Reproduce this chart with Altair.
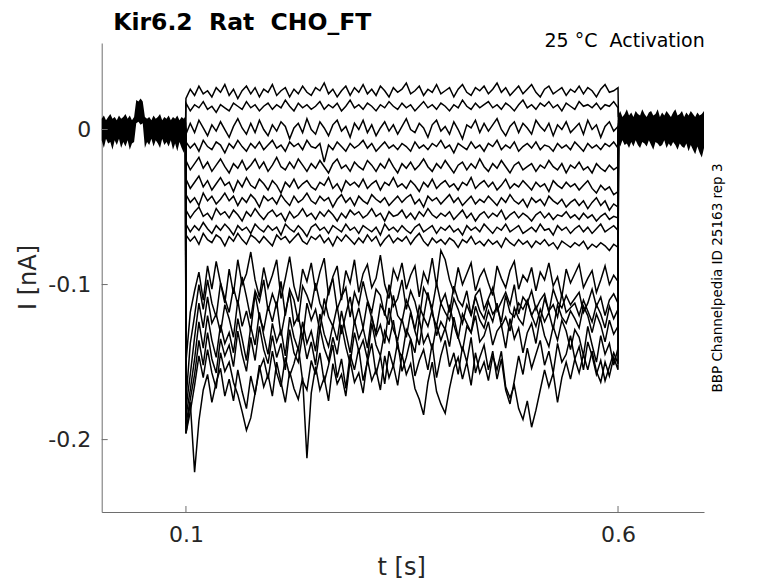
import altair as alt
import numpy as np
import pandas as pd

# ---------------- data (currents in pA) ----------------
X_TICKS = [0.1, 0.6]
Y_TICKS = [0, -0.1, -0.2]

T1 = [20, 26, 22, 28, 23, 25, 21, 27, 24, 29,
      22, 26, 20, 25, 28, 23, 27, 21, 26, 24,
      29, 22, 25, 27, 21, 26, 23, 28, 24, 22,
      27, 25, 30, 23, 26, 21, 25, 28, 22, 27,
      24, 29, 23, 26, 22, 28, 25, 21, 27, 24,
      26, 30, 23, 25, 28, 22, 26, 24, 29, 23,
      25, 27, 21, 26, 29, 24, 22, 27, 25, 28,
      23, 26, 30, 24, 27, 22, 25, 28, 23, 26,
      29, 24, 21, 26, 28, 23, 25, 27, 22, 26,
      24, 28, 23, 27, 25, 21, 26, 29, 24, 25,
      27]
T2 = [17, 12, 16, 14, 18, 13, 15, 11, 16, 14,
      12, 17, 15, 13, 18, 14, 16, 12, 15, 17,
      13, 16, 14, 19, 15, 12, 17, 14, 16, 13,
      15, 18, 13, 16, 14, 17, 12, 15, 19, 14,
      16, 13, 17, 15, 12, 16, 14, 18, 15, 13,
      17, 14, 16, 12, 15, 18, 14, 16, 13, 17,
      15, 12, 16, 14, 19, 15, 13, 17, 14, 16,
      18, 14, 16, 13, 17, 15, 12, 16, 19, 14,
      16, 13, 17, 15, 18, 14, 16, 12, 17, 15,
      13, 18, 15, 16, 14, 17, 13, 16, 15, 18,
      14]
T3 = [-3, 4, -2, 6, 1, -4, 3, -1, 5, 0,
      -5, 2, 7, 1, -3, 4, -2, 6, 0, -4,
      3, -1, 5, 2, -6, 1, 4, -2, 7, 0,
      -3, 5, 1, -4, 3, 6, -1, 2, -5, 4,
      0, 6, -2, 3, -4, 1, 5, -1, 3, -3,
      2, 7, 0, -2, 4, 1, -5, 3, 6, -1,
      2, -3, 5, 0, -6, 3, 1, 6, -2, 4,
      -1, 3, 7, 0, -4, 2, 5, -2, 4, 1,
      -3, 6, 2, -1, 4, -4, 3, 0, 5, -2,
      1, 4, -3, 6, 0, 3, -5, 2, 5, -1,
      2]
T4 = [-8, -12, -9, -14, -7, -11, -13, -8, -10, -15,
      -9, -12, -7, -11, -14, -9, -12, -8, -13, -10,
      -7, -12, -10, -14, -8, -11, -9, -13, -7, -11,
      -12, -9, -21, -10, -13, -8, -11, -14, -9, -12,
      -10, -7, -12, -9, -14, -11, -8, -12, -10, -13,
      -9, -11, -14, -8, -12, -10, -13, -9, -11, -7,
      -12, -10, -15, -9, -11, -13, -8, -12, -10, -14,
      -9, -11, -7, -13, -10, -12, -8, -14, -11, -9,
      -12, -8, -13, -10, -11, -14, -9, -12, -10, -13,
      -8, -11, -14, -9, -12, -10, -13, -9, -11, -8,
      -12]
T5 = [-20, -26, -22, -18, -25, -21, -27, -23, -19, -24,
      -28, -22, -25, -20, -26, -23, -19, -25, -21, -27,
      -23, -18, -24, -26, -21, -25, -19, -23, -27, -22,
      -25, -20, -24, -28, -22, -19, -25, -23, -27, -21,
      -24, -26, -20, -23, -27, -22, -25, -19, -24, -28,
      -22, -25, -21, -26, -23, -19, -24, -27, -22, -25,
      -20, -24, -28, -23, -21, -26, -22, -25, -19, -24,
      -27, -22, -25, -20, -24, -28, -23, -21, -26, -24,
      -22, -27, -23, -25, -20, -24, -26, -22, -28, -23,
      -25, -21, -26, -24, -28, -22, -25, -27, -23, -26,
      -24]
T6 = [-32, -38, -34, -30, -37, -33, -39, -35, -31, -36,
      -34, -40, -33, -37, -31, -36, -38, -32, -35, -39,
      -33, -36, -41, -34, -37, -32, -38, -35, -33, -37,
      -39, -34, -36, -31, -38, -35, -40, -33, -36, -34,
      -37, -32, -38, -35, -33, -39, -34, -36, -31, -37,
      -35, -38, -33, -36, -40, -34, -37, -32, -38, -35,
      -33, -37, -35, -39, -34, -36, -31, -38, -35, -33,
      -37, -34, -39, -36, -32, -38, -35, -37, -33, -36,
      -39, -34, -37, -35, -40, -33, -36, -38, -34, -37,
      -35, -39, -36, -33, -38, -41, -36, -39, -37, -42,
      -40]
T7 = [-42, -47, -44, -49, -41, -46, -43, -48, -45, -41,
      -46, -43, -49, -44, -47, -42, -45, -50, -43, -46,
      -44, -48, -42, -46, -49, -43, -47, -45, -41, -46,
      -48, -43, -46, -44, -50, -45, -42, -47, -44, -49,
      -43, -46, -48, -42, -45, -47, -44, -49, -46, -43,
      -47, -44, -42, -48, -45, -50, -43, -46, -44, -48,
      -45, -42, -47, -44, -49, -46, -43, -48, -45, -47,
      -43, -46, -49, -44, -47, -42, -46, -48, -45, -50,
      -44, -47, -45, -49, -43, -46, -48, -45, -50, -47,
      -45, -49, -46, -51, -47, -44, -49, -46, -52, -48,
      -50]
T8 = [-52, -57, -53, -50, -56, -54, -58, -51, -55, -53,
      -57, -52, -55, -59, -53, -56, -51, -55, -58, -54,
      -52, -56, -54, -59, -53, -57, -55, -51, -56, -54,
      -58, -53, -56, -52, -55, -59, -54, -57, -52, -55,
      -53, -57, -55, -51, -56, -54, -59, -53, -56, -55,
      -52, -57, -54, -58, -53, -56, -51, -55, -57, -54,
      -56, -53, -58, -55, -52, -57, -54, -59, -55, -53,
      -57, -54, -56, -52, -58, -55, -53, -57, -54, -56,
      -59, -55, -53, -57, -54, -58, -55, -56, -53, -57,
      -55, -58, -54, -57, -55, -59, -56, -54, -58, -56,
      -57]
T9 = [-61, -66, -62, -65, -60, -64, -67, -62, -65, -61,
      -64, -68, -62, -65, -63, -67, -61, -64, -66, -62,
      -65, -63, -68, -61, -64, -66, -62, -65, -69, -63,
      -61, -65, -63, -67, -62, -64, -66, -61, -65, -63,
      -67, -62, -64, -66, -63, -68, -61, -65, -63, -66,
      -62, -65, -67, -63, -61, -66, -64, -62, -67, -63,
      -65, -62, -66, -64, -68, -62, -65, -63, -66, -61,
      -64, -67, -63, -65, -61, -66, -64, -62, -67, -65,
      -63, -66, -61, -65, -64, -68, -62, -65, -63, -67,
      -64, -62, -66, -63, -67, -64, -61, -66, -64, -62,
      -65]
T10 = [-68, -72, -69, -74, -67, -71, -73, -68, -70, -75,
       -69, -72, -67, -71, -74, -68, -70, -73, -69, -72,
       -75, -68, -71, -69, -73, -70, -67, -72, -74, -69,
       -71, -68, -73, -70, -75, -69, -72, -68, -71, -74,
       -70, -73, -68, -72, -69, -75, -71, -68, -73, -70,
       -72, -69, -74, -70, -67, -72, -75, -70, -73, -71,
       -74, -70, -72, -76, -71, -73, -69, -74, -72, -75,
       -71, -74, -72, -76, -70, -73, -75, -71, -74, -72,
       -76, -72, -74, -71, -75, -73, -77, -72, -74, -76,
       -73, -75, -72, -77, -74, -76, -73, -75, -78, -74,
       -76]
T11 = [-150, -118, -104, -92, -110, -88, -103, -85, -99, -112,
       -90, -106, -84, -100, -93, -79, -97, -108, -89, -102,
       -94, -84, -109, -96, -82, -101, -111, -90, -98, -86,
       -104, -92, -83, -107, -95, -88, -110, -91, -99, -84,
       -105, -93, -87, -102, -96, -81, -100, -109, -90, -97,
       -86, -103, -94, -88, -108, -92, -99, -83, -101, -78,
       -84, -97, -105, -89, -100, -93, -86, -104, -95, -90,
       -99, -107, -88, -96, -102, -91, -85, -103, -94, -98,
       -89, -104, -92, -97, -86, -101, -95, -108, -90, -99,
       -93, -87, -102, -96, -91, -105, -97, -88, -100, -94,
       -98]
T12 = [-175, -138, -120, -100, -116, -97, -112, -121, -99, -109,
       -118, -102, -113, -95, -108, -122, -104, -111, -97, -117,
       -106, -114, -98, -120, -103, -110, -124, -101, -107, -115,
       -99, -112, -119, -104, -96, -116, -108, -102, -121, -105,
       -113, -98, -110, -118, -103, -107, -120, -100, -114, -109,
       -97, -116, -104, -111, -123, -102, -108, -115, -99, -112,
       -106, -118, -101, -110, -114, -104, -120, -107, -103, -116,
       -109, -102, -117, -111, -105, -113, -100, -119, -108, -112,
       -104, -116, -110, -106, -118, -103, -111, -115, -107, -113,
       -109, -105, -118, -112, -103, -114, -108, -120, -110, -106,
       -112]
T13 = [-180, -158, -134, -112, -128, -108, -125, -119, -131, -113,
       -122, -134, -110, -127, -117, -130, -106, -121, -129, -114,
       -124, -111, -133, -118, -105, -126, -120, -135, -112, -123,
       -116, -130, -109, -121, -127, -114, -132, -119, -108, -125,
       -115, -128, -111, -122, -131, -113, -118, -126, -107, -120,
       -124, -110, -117, -129, -114, -121, -105, -119, -127, -112,
       -118, -123, -109, -116, -125, -113, -120, -108, -117, -122,
       -111, -119, -115, -124, -107, -118, -121, -112, -116, -110,
       -120, -114, -123, -109, -117, -113, -121, -106, -118, -115,
       -112, -120, -110, -117, -124, -113, -119, -128, -114, -122,
       -116]
T14 = [-185, -168, -148, -124, -141, -120, -136, -147, -126, -138,
       -131, -144, -122, -135, -149, -127, -139, -118, -133, -145,
       -125, -137, -129, -146, -121, -134, -142, -124, -138, -130,
       -143, -119, -132, -140, -126, -136, -117, -131, -144, -123,
       -135, -128, -141, -120, -133, -126, -138, -115, -129, -136,
       -122, -134, -118, -130, -139, -121, -127, -116, -133, -124,
       -129, -113, -126, -135, -119, -125, -131, -114, -123, -128,
       -117, -124, -112, -127, -121, -130, -115, -122, -126, -111,
       -120, -127, -116, -124, -118, -129, -113, -121, -125, -117,
       -122, -128, -114, -120, -131, -119, -126, -137, -123, -132,
       -127]
T15 = [-190, -174, -158, -136, -152, -131, -148, -157, -135, -146,
       -139, -153, -130, -145, -156, -134, -149, -127, -142, -151,
       -133, -147, -138, -155, -129, -144, -150, -132, -148, -137,
       -152, -128, -141, -149, -134, -145, -126, -140, -151, -131,
       -143, -136, -148, -125, -139, -146, -130, -137, -123, -141,
       -147, -129, -135, -144, -122, -138, -132, -142, -126, -136,
       -128, -140, -121, -134, -143, -127, -131, -120, -137, -133,
       -124, -139, -130, -126, -141, -122, -135, -128, -144, -131,
       -125, -138, -121, -133, -140, -127, -136, -123, -130, -142,
       -129, -134, -146, -127, -139, -150, -133, -145, -138, -152,
       -141]
T16 = [-196, -182, -165, -146, -160, -142, -157, -167, -144, -156,
       -150, -163, -171, -182, -194, -186, -170, -155, -148, -161,
       -143, -157, -166, -147, -159, -151, -140, -162, -168, -149,
       -158, -144, -163, -152, -139, -160, -148, -167, -145, -155,
       -141, -162, -150, -138, -158, -146, -164, -143, -153, -137,
       -156, -147, -135, -159, -149, -142, -155, -138, -160, -146,
       -136, -153, -144, -158, -140, -150, -134, -157, -147, -139,
       -155, -143, -161, -148, -168, -177, -162, -146, -158, -141,
       -154, -145, -136, -152, -143, -157, -138, -150, -145, -133,
       -148, -140, -155, -137, -146, -158, -149, -162, -153, -144,
       -151]
T17 = [-196, -176, -221, -188, -168, -158, -176, -163, -154, -172,
       -161, -175, -155, -169, -180, -159, -171, -152, -166, -158,
       -172, -150, -163, -176, -156, -167, -174, -160, -212, -170,
       -153, -168, -160, -175, -151, -164, -158, -172, -149, -163,
       -157, -170, -148, -162, -155, -168, -146, -160, -152, -165,
       -145, -158, -151, -167, -174, -184, -163, -150, -169, -177,
       -183, -167, -154, -147, -161, -150, -165, -144, -157, -150,
       -162, -146, -155, -143, -166, -173, -165, -180, -187, -175,
       -192, -181, -168, -155, -166, -157, -176, -160, -150, -161,
       -148, -157, -145, -155, -143, -156, -163, -150, -159, -147,
       -155]
TRACES = [T1, T2, T3, T4, T5, T6, T7, T8, T9, T10,
          T11, T12, T13, T14, T15, T16, T17]

# value of each sweep just before / just after the voltage step (pA)
PRE_CONN = [3, -4, 1, -2, 5, -1, 2, -5, 0, 4, -3, 2, -6, 1, -2, 3, -7]
POST_CONN = [8, 5, 2, -3, 6, -1, 4, -6, 1, 3, -2, 5, -4, 0, 2, -5, 1]

# envelope of the overlapping baseline noise (pA), before and after the step
PRE_UP = [7, 9, 6, 8, 10, 7, 8, 6, 9, 7,
          8, 10, 7, 9, 6, 8, 19, 18, 20, 18,
          8, 7, 8, 6, 9, 7, 8, 10, 6, 8,
          7, 9, 6, 8, 7, 9, 6, 8, 7, 9]
PRE_LO = [-7, -12, -6, -9, -8, -13, -7, -10, -6, -12,
          -8, -11, -7, -13, -9, -8, 4, 5, 3, 4,
          -12, -8, -10, -6, -11, -7, -9, -12, -6, -10,
          -8, -11, -7, -13, -9, -14, -8, -12, -15, -10]
POST_UP = [9, 12, 8, 10, 13, 9, 11, 8, 12, 10,
           9, 13, 10, 8, 11, 12, 9, 10, 13, 8,
           11, 9, 12, 10, 8, 11, 13, 9, 10, 12,
           8, 11, 9, 12, 10, 8, 11, 9, 10, 12]
POST_LO = [-8, -11, -7, -10, -9, -12, -8, -11, -7, -10,
           -12, -8, -9, -11, -7, -10, -13, -8, -9, -11,
           -10, -7, -12, -9, -11, -8, -10, -13, -9, -11,
           -12, -9, -14, -10, -13, -16, -11, -15, -18, -12]

# ---------------- tables ----------------
pulse_t = np.linspace(0.1, 0.6, 101)
rows = []
for k, tr in enumerate(TRACES):
    assert len(tr) == 101, (k, len(tr))
    rows.append({"t": 0.0995, "I": PRE_CONN[k] / 1000.0, "sweep": k})
    for tt, v in zip(pulse_t, tr):
        rows.append({"t": float(tt), "I": v / 1000.0, "sweep": k})
    rows.append({"t": 0.6005, "I": POST_CONN[k] / 1000.0, "sweep": k})
traces_df = pd.DataFrame(rows)

pre_t = np.linspace(0.0025, 0.1, 40)
post_t = np.linspace(0.6, 0.6995, 40)
band_df = pd.DataFrame({
    "t": list(pre_t) + list(post_t),
    "up": [v / 1000.0 for v in PRE_UP + POST_UP],
    "lo": [v / 1000.0 for v in PRE_LO + POST_LO],
    "seg": ["pre"] * 40 + ["post"] * 40,
})

# ---------------- chart ----------------
W, H = 602.3, 469.0
FONT = "DejaVu Sans"
AX = "#6e6e6e"
TICKC = "#262626"
xs = alt.Scale(domain=[0.0025, 0.6995], nice=False, zero=False)
ys = alt.Scale(domain=[-0.2467, 0.0558], nice=False, zero=False)
AXX = alt.Axis(values=X_TICKS, title=None, labelExpr="format(datum.value, '.1f')",
               labelPadding=12, ticks=False, tickSize=0, grid=False,
               domainColor=AX, domainWidth=1, labelFont=FONT, labelFontSize=22,
               labelColor=TICKC)
AXY = alt.Axis(values=Y_TICKS, title=None,
               labelExpr="datum.value == 0 ? '0' : '-' + format(-datum.value, '.1f')",
               labelPadding=11, ticks=False, tickSize=0, grid=False,
               domainColor=AX, domainWidth=1, labelFont=FONT, labelFontSize=22,
               labelColor=TICKC)

band = alt.Chart(band_df).mark_area(color="black", opacity=1).encode(
    x=alt.X("t:Q", scale=xs, axis=AXX),
    y=alt.Y("up:Q", scale=ys, axis=AXY),
    y2="lo:Q",
    detail="seg:N",
)

lines = alt.Chart(traces_df).mark_line(color="black", strokeWidth=1.5).encode(
    x=alt.X("t:Q", scale=xs, axis=AXX),
    y=alt.Y("I:Q", scale=ys, axis=AXY),
    detail="sweep:N",
)

xtick = alt.Chart(pd.DataFrame({"t": X_TICKS})).mark_rule(color=AX, strokeWidth=1).encode(
    x=alt.X("t:Q", scale=xs, axis=AXX), y=alt.value(H), y2=alt.value(H - 6))
ytick = alt.Chart(pd.DataFrame({"I": Y_TICKS})).mark_rule(color=AX, strokeWidth=1).encode(
    y=alt.Y("I:Q", scale=ys, axis=AXY), x=alt.value(0), x2=alt.value(6))


def label(s, x, y, size, weight="normal", align="left", angle=0, color="black"):
    return alt.Chart(pd.DataFrame({"s": [s]})).mark_text(
        font=FONT, fontSize=size, fontWeight=weight, align=align,
        baseline="alphabetic", angle=angle, color=color,
    ).encode(text="s:N", x=alt.value(x), y=alt.value(y))


title = label("Kir6.2\u00a0\u00a0Rat\u00a0\u00a0CHO_FT", 11.5, -13, 23.5, weight="bold")
sub = label("25 \u00b0C\u00a0\u00a0Activation", 603, 4, 19, align="right")
side = label("BBP Channelpedia ID 25163 rep 3", 620.5, 235, 13.5, align="center", angle=270)
xtitle = label("t [s]", 300, 532, 24, align="center", color=TICKC)
ytitle = label("I [nA]", -65.7, 234.5, 24, align="center", angle=270, color=TICKC)

chart = alt.layer(band, lines, xtick, ytick, title, sub, side, xtitle, ytitle).properties(
    width=W, height=H,
    padding={"left": 93.7, "top": 35, "right": 60, "bottom": 70},
    autosize=alt.AutoSizeParams(type="none"),
    background="white",
).configure_view(strokeWidth=0, stroke="transparent")

chart.save("out.html", embed_options={"renderer": "svg", "actions": False})
